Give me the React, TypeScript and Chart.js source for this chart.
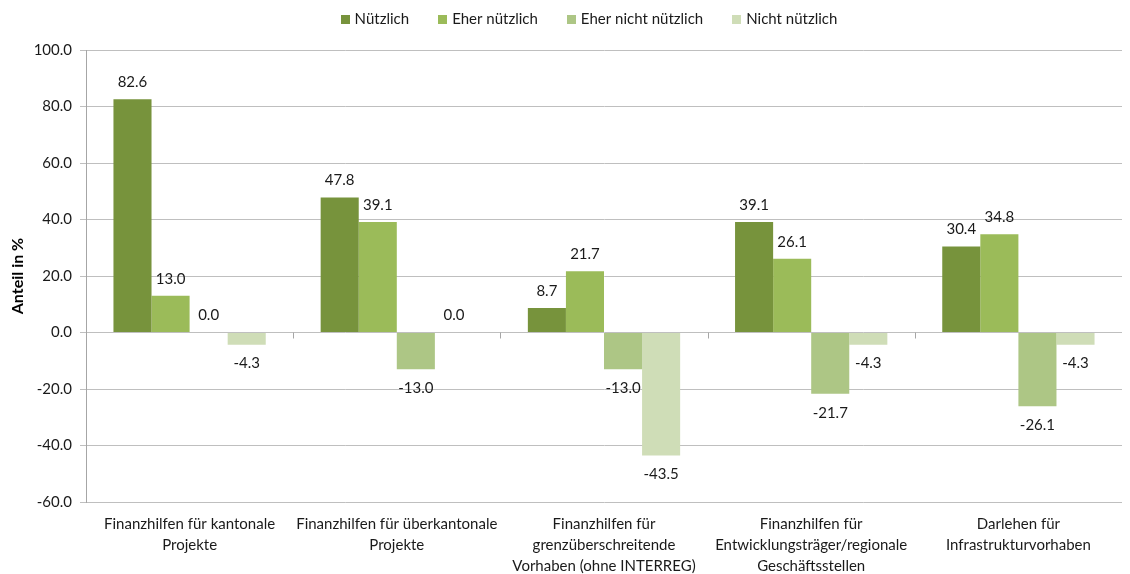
import React, { useEffect, useRef } from "react";
import { Chart, registerables } from "chart.js";

Chart.register(...registerables);

const categories: string[][] = [
  ["Finanzhilfen für kantonale", "Projekte"],
  ["Finanzhilfen für überkantonale", "Projekte"],
  ["Finanzhilfen für", "grenzüberschreitende", "Vorhaben (ohne INTERREG)"],
  ["Finanzhilfen für", "Entwicklungsträger/regionale", "Geschäftsstellen"],
  ["Darlehen für", "Infrastrukturvorhaben"],
];

const seriesNames = ["Nützlich", "Eher nützlich", "Eher nicht nützlich", "Nicht nützlich"];
const nuetzlich = [82.6, 47.8, 8.7, 39.1, 30.4];
const eherNuetzlich = [13.0, 39.1, 21.7, 26.1, 34.8];
const eherNichtNuetzlich = [0.0, -13.0, -13.0, -21.7, -26.1];
const nichtNuetzlich = [-4.3, 0.0, -43.5, -4.3, -4.3];
const seriesColors = ["#77933C", "#9BBB59", "#ADC685", "#CFDDB7"];

const yMin = -60;
const yMax = 100;
const yStep = 20;

const FONT = "Lato, 'Liberation Sans', sans-serif";

export default function App() {
  const ref = useRef<HTMLCanvasElement | null>(null);

  useEffect(() => {
    if (!ref.current) return;
    const values = [nuetzlich, eherNuetzlich, eherNichtNuetzlich, nichtNuetzlich];

    const dataLabels = {
      id: "dataLabels",
      afterDatasetsDraw(chart: any) {
        const ctx = chart.ctx;
        ctx.save();
        ctx.font = `15px ${FONT}`;
        ctx.fillStyle = "#1a1a1a";
        ctx.textAlign = "center";
        ctx.textBaseline = "middle";
        chart.data.datasets.forEach((ds: any, di: number) => {
          const meta = chart.getDatasetMeta(di);
          meta.data.forEach((el: any, i: number) => {
            const v = ds.data[i] as number;
            const y = v >= 0 ? el.y - 17 : el.y + 19;
            ctx.fillText(v.toFixed(1), el.x, y);
          });
        });
        ctx.restore();
      },
    };

    const zeroTicks = {
      id: "zeroTicks",
      afterDraw(chart: any) {
        const x = chart.scales.x;
        const y = chart.scales.y;
        const ctx = chart.ctx;
        const y0 = y.getPixelForValue(0);
        ctx.save();
        ctx.strokeStyle = "#A6A6A6";
        ctx.lineWidth = 1;
        for (let i = 0; i < categories.length - 1; i++) {
          const bx = Math.round((x.getPixelForValue(i) + x.getPixelForValue(i + 1)) / 2) + 0.5;
          ctx.beginPath();
          ctx.moveTo(bx, y0);
          ctx.lineTo(bx, y0 + 6);
          ctx.stroke();
        }
        ctx.restore();
      },
    };

    const customLegend = {
      id: "customLegend",
      afterDraw(chart: any) {
        const ctx = chart.ctx;
        ctx.save();
        ctx.font = `15px ${FONT}`;
        ctx.textBaseline = "middle";
        ctx.textAlign = "left";
        const box = 9;
        const boxGap = 5;
        const itemGap = 29;
        const widths = seriesNames.map((n) => ctx.measureText(n).width);
        const total =
          widths.reduce((a, w) => a + box + boxGap + w, 0) + itemGap * (seriesNames.length - 1);
        const centerX = 589;
        const cy = 19;
        let x = centerX - total / 2;
        seriesNames.forEach((n, i) => {
          ctx.fillStyle = seriesColors[i];
          ctx.fillRect(Math.round(x), Math.round(cy - box / 2), box, box);
          ctx.fillStyle = "#1a1a1a";
          ctx.fillText(n, x + box + boxGap, cy);
          x += box + boxGap + widths[i] + itemGap;
        });
        ctx.restore();
      },
    };

    const chart = new Chart(ref.current, {
      type: "bar",
      data: {
        labels: categories,
        datasets: seriesNames.map((name, i) => ({
          label: name,
          data: values[i],
          backgroundColor: seriesColors[i],
          borderWidth: 0,
          categoryPercentage: 0.735,
          barPercentage: 1.0,
        })),
      },
      options: {
        responsive: false,
        animation: false,
        layout: { padding: { top: 50, right: 8, left: 0, bottom: 0 } },
        plugins: {
          legend: { display: false },
          tooltip: { enabled: false },
        },
        scales: {
          x: {
            grid: { display: false },
            border: { display: false },
            ticks: {
              color: "#1a1a1a",
              font: { family: FONT, size: 15, lineHeight: 1.4 },
              padding: 4,
              maxRotation: 0,
              autoSkip: false,
            },
            afterFit(scale: any) {
              scale.height = 72;
            },
          },
          y: {
            min: yMin,
            max: yMax,
            ticks: {
              stepSize: yStep,
              color: "#1a1a1a",
              font: { family: FONT, size: 15 },
              padding: 8,
              callback: (v: any) => Number(v).toFixed(1),
            },
            grid: { color: "#BFBFBF", tickLength: 6, lineWidth: 1 },
            border: { display: true, color: "#A6A6A6" },
            title: {
              display: true,
              text: "Anteil in %",
              color: "#000",
              font: { family: FONT, size: 16, weight: "bold" },
              padding: { top: 8, bottom: 4 },
            },
            afterFit(scale: any) {
              scale.width = 86;
            },
          },
        },
      },
      plugins: [dataLabels, zeroTicks, customLegend],
    });
    return () => chart.destroy();
  }, []);

  return (
    <div style={{ position: "fixed", left: 0, top: 0, width: 1130, height: 574, background: "#fff" }}>
      <canvas ref={ref} width={1130} height={574} style={{ display: "block" }} />
    </div>
  );
}
